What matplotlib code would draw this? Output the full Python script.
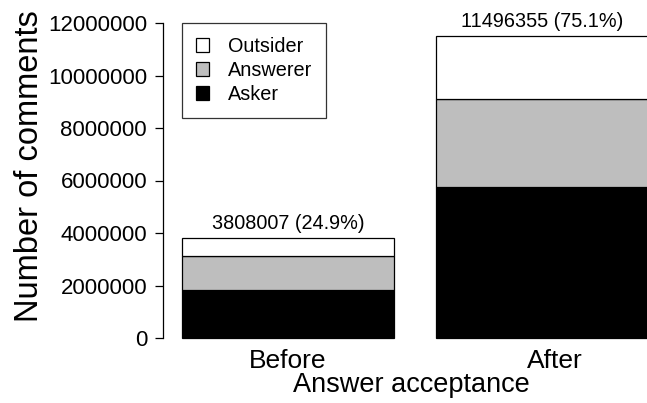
import matplotlib
matplotlib.use("Agg")
import matplotlib.pyplot as plt
from matplotlib.patches import Patch
import numpy as np

plt.rcParams['font.family'] = ['Liberation Sans', 'DejaVu Sans']

# Comment counts before / after an answer is accepted, split by commenter role
categories = ['Before', 'After']
asker = [1830000, 5760000]
answerer = [1290000, 3340000]
outsider = [688007, 2396355]
y_ticks = [0, 2000000, 4000000, 6000000, 8000000, 10000000, 12000000]

bar_left = np.array([0.2, 1.4])
bar_width = np.array([1.0, 1.12])

asker_a = np.array(asker)
answerer_a = np.array(answerer)
outsider_a = np.array(outsider)
totals = asker_a + answerer_a + outsider_a
shares = totals / totals.sum() * 100

W, H = 647, 403
fig = plt.figure(figsize=(W / 100, H / 100), dpi=100)
ax = fig.add_axes([163 / W, 65 / H, 497 / W, 315 / H])

edge = dict(edgecolor='black', linewidth=0.9, align='edge', clip_on=False)
ax.bar(bar_left, asker_a, width=bar_width, color='black', **edge)
ax.bar(bar_left, answerer_a, width=bar_width, bottom=asker_a, color='#BEBEBE', **edge)
ax.bar(bar_left, outsider_a, width=bar_width, bottom=asker_a + answerer_a,
       color='white', **edge)

for x, t, s in zip(bar_left + 0.5, totals, shares):
    ax.annotate(f"{t} ({s:.1f}%)", xy=(x, t), xytext=(0, 6.5),
                textcoords='offset points', ha='center', va='baseline',
                fontsize=14.3, annotation_clip=False)

ax.set_xlim(0.11, 0.11 + 497 / 212)
ax.set_ylim(0, 12000000)
ax.set_yticks(y_ticks)
ax.set_yticklabels([str(v) for v in y_ticks], fontsize=16)
ax.tick_params(axis='y', length=6, width=0.9, pad=5.5)
ax.set_xticks(bar_left + bar_width / 2)
ax.set_xticklabels(categories, fontsize=19)
ax.tick_params(axis='x', length=0, pad=8)

for side in ('top', 'right', 'bottom'):
    ax.spines[side].set_visible(False)
ax.spines['left'].set_linewidth(0.9)

fig.text(411 / W, 1 - 385 / H, 'Answer acceptance', ha='center', va='center',
         fontsize=19.5)
fig.text(30 / W, 1 - 166 / H, 'Number of comments', ha='center', va='center',
         rotation=90, fontsize=23.5)

handles = [Patch(facecolor='white', edgecolor='black', linewidth=0.9),
           Patch(facecolor='#BEBEBE', edgecolor='black', linewidth=0.9),
           Patch(facecolor='black', edgecolor='black', linewidth=0.9)]
leg = ax.legend(handles, ['Outsider', 'Answerer', 'Asker'],
                loc='upper left', bbox_to_anchor=(182 / W, 1 - 23 / H),
                bbox_transform=fig.transFigure, fontsize=14.3,
                frameon=True, fancybox=False, edgecolor='black',
                handlelength=0.68, handleheight=0.68, handletextpad=0.95,
                borderpad=0.7, labelspacing=0.26, borderaxespad=0)
leg.get_frame().set_linewidth(0.9)

fig.savefig('out.png', dpi=100)
